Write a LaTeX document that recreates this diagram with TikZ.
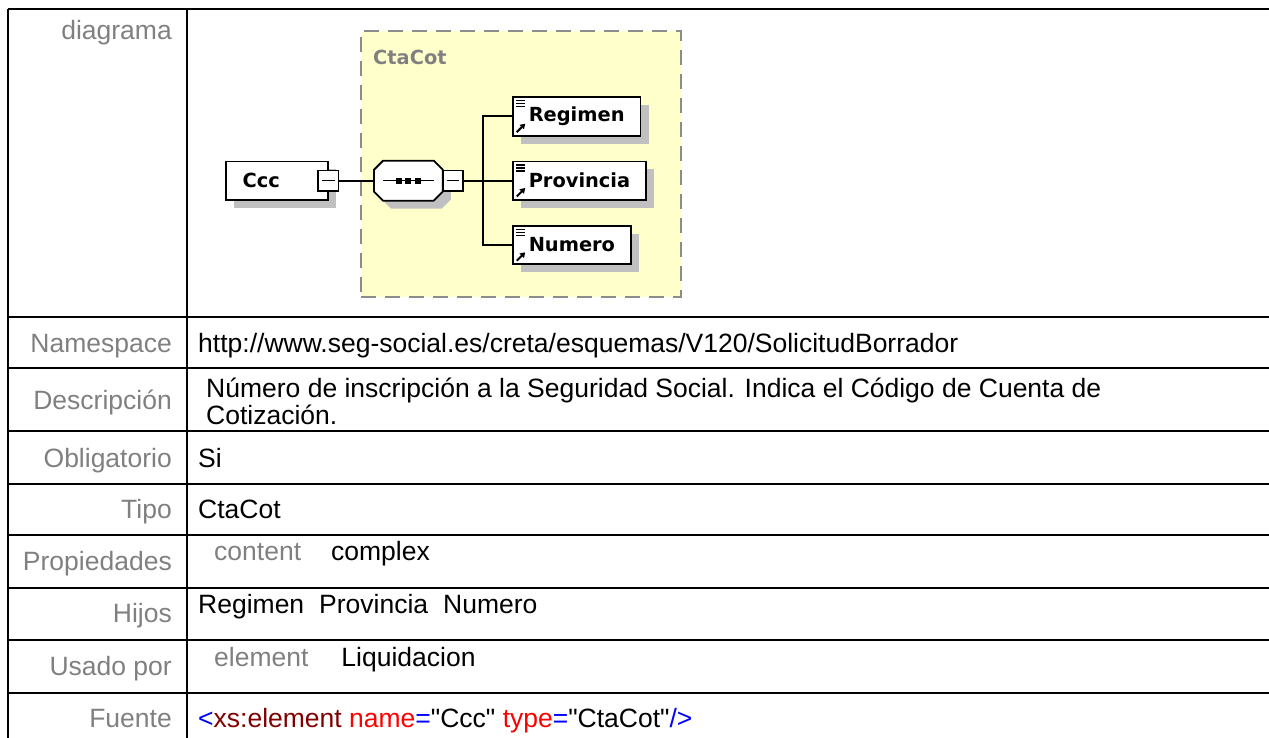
\documentclass[tikz,border=0pt]{standalone}
\usepackage{fontspec}
\setmainfont{Liberation Sans}[Ligatures=TeXOff]
\newfontfamily\diafont{DejaVu Sans}
\usetikzlibrary{positioning,shadows,arrows.meta}

\definecolor{labelgray}{RGB}{128,128,128}
\definecolor{groupfill}{RGB}{255,255,204}
\definecolor{groupline}{RGB}{140,140,140}
\definecolor{shade}{RGB}{192,192,192}
\definecolor{tagblue}{RGB}{0,0,255}
\definecolor{tagred}{RGB}{128,0,0}
\definecolor{attred}{RGB}{255,0,0}

% octagon round the Seq node
\newcommand\seqoctagon{([yshift=-9pt]Seq.north west) -- ([xshift=9pt]Seq.north west)
  -- ([xshift=-9pt]Seq.north east) -- ([yshift=-9pt]Seq.north east)
  -- ([yshift=9pt]Seq.south east) -- ([xshift=-9pt]Seq.south east)
  -- ([xshift=9pt]Seq.south west) -- ([yshift=9pt]Seq.south west) -- cycle}

\begin{document}
\begin{tikzpicture}[
     x = 1pt, y = -1pt,
     txt/.style = {font=\fontsize{26.5}{30}\selectfont, inner sep=0pt},
     rowlabel/.style = {txt, labelgray, anchor=base east},
     rowvalue/.style = {txt, anchor=base west},
     rule/.style = {line width=2pt},
     dia/.style = {font=\diafont\bfseries\fontsize{19.4}{22}\selectfont},
     elshadow/.style = {drop shadow={shadow xshift=8pt, shadow yshift=-8pt, fill=shade, opacity=1}},
     element/.style = {dia, draw, line width=1.8pt, fill=white, elshadow, outer sep=0pt,
                       minimum height=38.5pt, inner xsep=16pt, anchor=west},
     seq/.style = {minimum width=68.7pt, minimum height=40pt, inner sep=0pt, outer sep=0pt},
     minusbox/.style = {draw, line width=1.8pt, fill=white, minimum size=20.5pt, inner sep=0pt, outer sep=0pt},
     group/.style = {draw=groupline, fill=groupfill, line width=1.8pt, dash pattern=on 15pt off 9pt,
                     minimum width=320pt, minimum height=266pt, anchor=north west},
     conn/.style = {line width=1.8pt}
    ]

    \useasboundingbox (0,0) rectangle (1269,738);

    % table
    \foreach \y in {9,317,368,431,484,535,588,640,693}
      \draw[rule] (8,\y) -- (1269,\y);
    \draw[rule] (8,9) -- (8,738);
    \draw[rule] (187,9) -- (187,738);

    \foreach \t/\y [count=\i] in {diagrama/40, Namespace/352, Descripción/409, Obligatorio/467,
                                  Tipo/518, Propiedades/570.5, Hijos/622.5, Usado por/675, Fuente/727}
      \node[rowlabel] (label\i) at (172,\y) {\t};

    \node[rowvalue] (namespace) at (198,352) {http://www.seg-social.es/creta/esquemas/V120/SolicitudBorrador};
    \node[rowvalue] (descA) at (206,397) {Número de inscripción a la Seguridad Social. Indica el Código de Cuenta de};
    \node[rowvalue] (descB) at (206,424) {Cotización.};
    \node[rowvalue] (obligatorio) at (198,467) {Si};
    \node[rowvalue] (tipo) at (198,518) {CtaCot};
    \node[rowvalue] (propiedades) at (214,560) {\textcolor{labelgray}{content}\hspace{30pt}complex};
    \node[rowvalue] (hijos) at (198,613) {Regimen\hspace{15pt}Provincia\hspace{15pt}Numero};
    \node[rowvalue] (usado) at (214,666) {\textcolor{labelgray}{element}\hspace{33pt}Liquidacion};
    \node[rowvalue] (fuente) at (198,727) {\textcolor{tagblue}{<}\textcolor{tagred}{xs:element}
      \textcolor{attred}{name}\textcolor{tagblue}{=}"Ccc" \textcolor{attred}{type}\textcolor{tagblue}{=}"CtaCot"\textcolor{tagblue}{/>}};

    % diagram
    \node[group] (CtaCotGroup) at (360,30) {};
    \node[dia, labelgray, anchor=base west, inner sep=0pt] (CtaCotName) at (373,65) {CtaCot};

    \node[element, text width=68.6pt, align=left, inner xsep=17pt] (Ccc) at (225.7,180.7) {Ccc};
    \node[minusbox] (CccMinus) at (Ccc.east) {};
    \node[seq, right=35.5pt of CccMinus] (Seq) {};
    \filldraw[fill=white, line width=1.8pt, elshadow] \seqoctagon;
    \node[minusbox, right=0pt of Seq] (SeqMinus) {};
    \coordinate[right=19.5pt of SeqMinus] (Fork);

    \node[element, right=30pt of Fork] (Provincia) {Provincia};
    \node[element] (Regimen) at ([yshift=64.3pt]Provincia.west) {Regimen};
    \node[element] (Numero) at ([yshift=-64.3pt]Provincia.west) {Numero};

    \foreach \m in {CccMinus,SeqMinus}
      \draw[line width=1.4pt] ([xshift=4pt]\m.west) -- ([xshift=-4pt]\m.east);
    \draw[line width=1.4pt] ([xshift=9pt]Seq.west) -- ([xshift=-9pt]Seq.east);
    \foreach \d in {-9.3,0,9.3}
      \fill ([shift={(\d-3,-3)}]Seq.center) rectangle ++(6,6);

    \draw[conn] (CccMinus) -- (Seq);
    \draw[conn] (SeqMinus) -- (Fork);
    \foreach \kid in {Regimen,Provincia,Numero}{
      \draw[conn] (Fork) |- (\kid);
      \foreach \dy in {3.5,6.5,9.5}
        \draw[line width=1.4pt] ([shift={(3,\dy)}]\kid.north west) -- ++(9,0);
      \draw[line width=2pt, -{Triangle[length=5pt,width=6pt]}] ([shift={(4,-3.5)}]\kid.south west) -- ++(8.5,-8.5);
    }

\end{tikzpicture}
\end{document}
